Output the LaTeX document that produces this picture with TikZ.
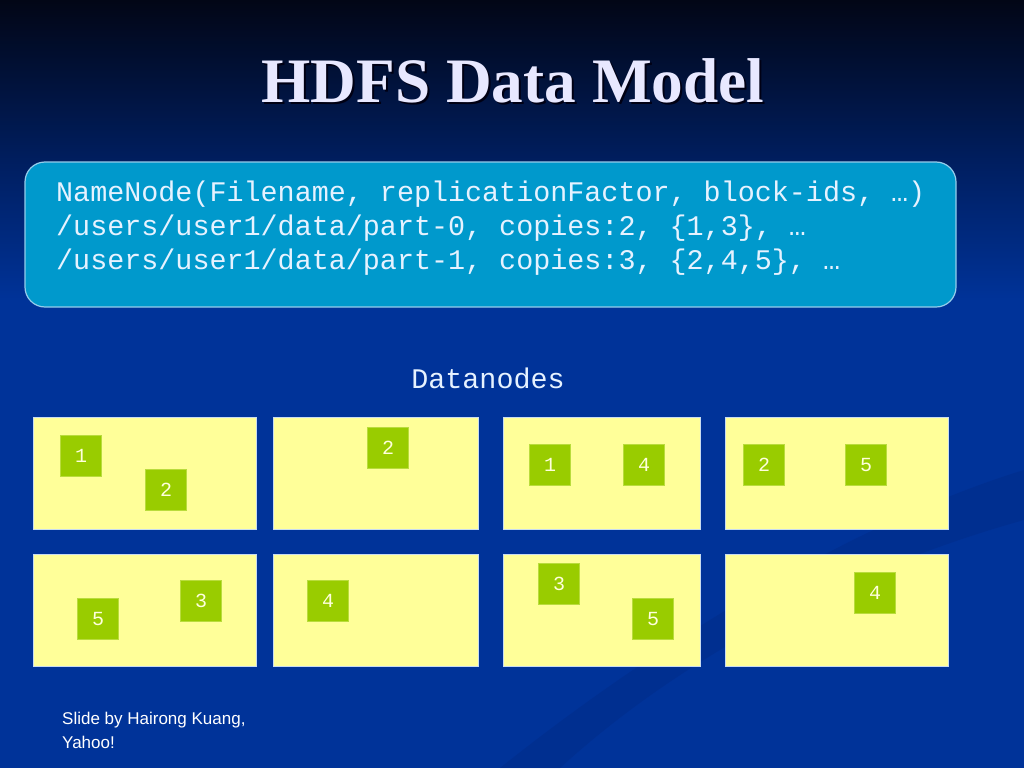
\documentclass[tikz,border=0pt]{standalone}
\usepackage{fontspec}
\setmainfont{Liberation Serif}
\newfontfamily\monofont{Liberation Mono}
\newfontfamily\arialfont{Liberation Sans}
\definecolor{bgtop}{RGB}{2,6,22}
\definecolor{bgmid}{RGB}{0,30,95}
\definecolor{bgbot}{RGB}{0,51,153}
\definecolor{swoosh}{RGB}{0,40,130}
\definecolor{nnfill}{RGB}{0,153,204}
\definecolor{nnline}{RGB}{150,205,235}
\definecolor{nntext}{RGB}{230,242,255}
\definecolor{dnfill}{RGB}{255,255,153}
\definecolor{dnline}{RGB}{200,220,240}
\definecolor{blkfill}{RGB}{153,204,0}
\definecolor{blkline}{RGB}{185,220,60}
\definecolor{blktext}{RGB}{255,255,220}
\definecolor{titlecol}{RGB}{232,232,255}
\definecolor{shadowcol}{RGB}{0,0,20}
\tikzset{
  titletext/.style={anchor=base, inner sep=0pt, text=titlecol, font=\fontsize{63.3}{75}\selectfont\bfseries},
  titleshadow/.style={anchor=base, inner sep=0pt, text=shadowcol, font=\fontsize{63.3}{75}\selectfont\bfseries},
  namebox/.style={draw=nnline, line width=1.2pt, fill=nnfill, rounded corners=20pt, minimum width=931pt, minimum height=145pt, inner sep=0pt},
  monotext/.style={anchor=base west, inner sep=0pt, text=nntext, font=\monofont\fontsize{28.4}{34}\selectfont},
  dnlabel/.style={anchor=base, inner sep=0pt, text=nntext, font=\monofont\fontsize{28.4}{34}\selectfont},
  dnbox/.style={draw=dnline, line width=0.8pt, fill=dnfill, anchor=north west, inner sep=0pt},
  blk/.style={draw=blkline, line width=0.6pt, fill=blkfill, minimum size=41pt, inner sep=0pt, text=blktext, font=\monofont\fontsize{20}{24}\selectfont},
  foot/.style={anchor=base west, inner sep=0pt, text=white, font=\arialfont\fontsize{17}{20}\selectfont}
}
\begin{document}
\begin{tikzpicture}[x=1pt,y=-1pt]
\useasboundingbox (0,0) rectangle (1024,768);
% background
\shade[top color=bgtop, bottom color=bgmid] (0,0) rectangle (1024,161);
\shade[top color=bgmid, bottom color=bgbot] (0,160) rectangle (1024,301);
\fill[bgbot] (0,300) rectangle (1024,768);
\fill[swoosh, opacity=0.35] (560,768) .. controls (700,640) and (880,560) .. (1024,520)
  -- (1024,470) .. controls (860,520) and (660,640) .. (500,768) -- cycle;
% title
\node[titleshadow] (titleshadowtext) at (515,104) {HDFS Data Model};
\node[titletext] (title) at (513,102) {HDFS Data Model};
% namenode
\node[namebox] (namenode) at (490.5,234.5) {};
\node[monotext] (nn1) at (56,201) {NameNode(Filename, replicationFactor, block-ids, …)};
\node[monotext] (nn2) at (56,235) {/users/user1/data/part-0, copies:2, \{1,3\}, …};
\node[monotext] (nn3) at (56,269) {/users/user1/data/part-1, copies:3, \{2,4,5\}, …};
% datanodes label
\node[dnlabel] (dnlab) at (488,388) {Datanodes};
% datanode boxes
\node[dnbox, minimum width=223pt, minimum height=112pt] (d1) at (33,417) {};
\node[dnbox, minimum width=205pt, minimum height=112pt] (d2) at (273,417) {};
\node[dnbox, minimum width=197pt, minimum height=112pt] (d3) at (503,417) {};
\node[dnbox, minimum width=223pt, minimum height=112pt] (d4) at (725,417) {};
\node[dnbox, minimum width=223pt, minimum height=112pt] (d5) at (33,554) {};
\node[dnbox, minimum width=205pt, minimum height=112pt] (d6) at (273,554) {};
\node[dnbox, minimum width=197pt, minimum height=112pt] (d7) at (503,554) {};
\node[dnbox, minimum width=223pt, minimum height=112pt] (d8) at (725,554) {};
% blocks
\node[blk] (b11) at (81,456) {1};
\node[blk] (b12) at (166,490) {2};
\node[blk] (b22) at (388,448) {2};
\node[blk] (b31) at (550,465) {1};
\node[blk] (b34) at (644,465) {4};
\node[blk] (b42) at (764,465) {2};
\node[blk] (b45) at (866,465) {5};
\node[blk] (b55) at (98,619) {5};
\node[blk] (b53) at (201,601) {3};
\node[blk] (b64) at (328,601) {4};
\node[blk] (b73) at (559,584) {3};
\node[blk] (b75) at (653,619) {5};
\node[blk] (b84) at (875,593) {4};
% footer
\node[foot] (foot1) at (62,724) {Slide by Hairong Kuang,};
\node[foot] (foot2) at (62,748) {Yahoo!};
\end{tikzpicture}
\end{document}
